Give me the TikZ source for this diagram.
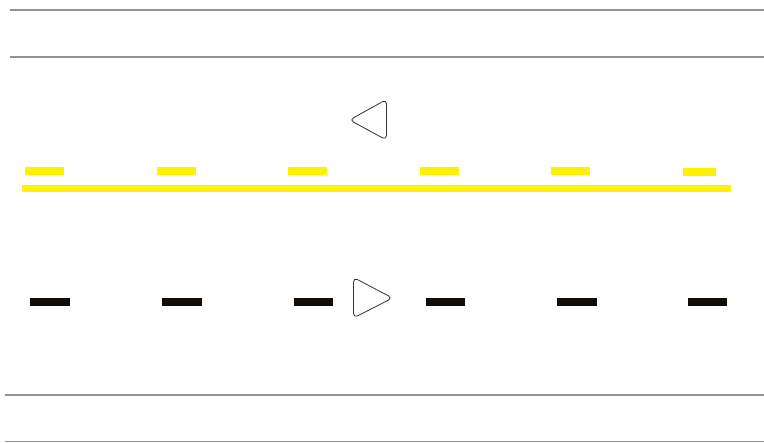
\documentclass[tikz,border=0pt]{standalone}
\begin{document}
\begin{tikzpicture}[x=1pt,y=-1pt,
  edgeline/.style={draw=gray!85, line width=1.6pt},
  yellowdash/.style={fill=yellow, draw=none},
  blackdash/.style={fill=black!90!brown, draw=none},
  arrowtri/.style={draw=black!80, line width=0.8pt, rounded corners=4.5pt, line join=round}]
\useasboundingbox (0,0) rectangle (764,443);
% road edge lines
\draw[edgeline] (10,10) -- (764,10);
\draw[edgeline] (10,57) -- (764,57);
\draw[edgeline] (5,395) -- (764,395);
\draw[edgeline] (5,441.5) -- (764,441.5);
% yellow line and dashes
\fill[yellowdash] (22,185) rectangle (731,192.5);
\foreach \x in {25,156.5,288,419.5,551} {
  \fill[yellowdash] (\x,167.5) rectangle ++(39,8);
}
\fill[yellowdash] (683,168.3) rectangle (716,175.7);
% black dashes
\foreach \x in {30,162,293.5,425.5,557} {
  \fill[blackdash] (\x,298.3) rectangle ++(39.5,7.4);
}
\fill[blackdash] (688.3,298.3) rectangle (727,305.7);
% direction triangles
\draw[arrowtri] (349.5,120) -- (386.5,99.5) -- (386.5,140) -- cycle;
\draw[arrowtri] (392.5,298) -- (353.5,277.5) -- (353.5,318) -- cycle;
\end{tikzpicture}
\end{document}
